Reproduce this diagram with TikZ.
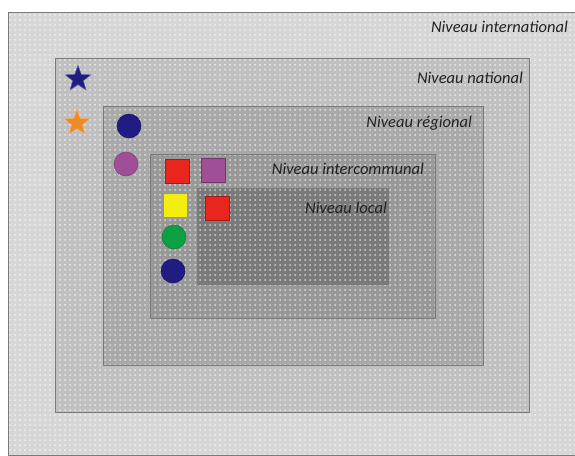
\documentclass[tikz,border=0pt]{standalone}
\usepackage{fontspec}
\setmainfont{Carlito}
\usetikzlibrary{shapes.geometric,patterns.meta}
\definecolor{cInt}{HTML}{D6D6D6}
\definecolor{cNat}{HTML}{C0C0C0}
\definecolor{cReg}{HTML}{A9A9A9}
\definecolor{cInc}{HTML}{989898}
\definecolor{cLoc}{HTML}{7A7A7A}
\definecolor{cEdge}{HTML}{7A7A7A}
\definecolor{cNavy}{HTML}{211C82}
\definecolor{cPurple}{HTML}{A04E96}
\definecolor{cRed}{HTML}{E8261E}
\definecolor{cYellow}{HTML}{F4EE10}
\definecolor{cGreen}{HTML}{0DA043}
\definecolor{cOrange}{HTML}{EF8A28}
\definecolor{cText}{HTML}{222222}
\tikzset{
  level/.style={fill=#1,
    postaction={pattern={Dots[distance=5pt,radius=1pt]}, pattern color=white!65!#1},
    postaction={draw=cEdge, line width=0.6pt}},
  lvllabel/.style={anchor=base east, font=\itshape\fontsize{16.5}{16.5}\selectfont, text=cText, inner sep=0pt},
  sq/.style={rectangle, minimum size=24pt, inner sep=0pt, fill=#1, draw=#1!70!black, line width=0.5pt},
  disc/.style={circle, minimum size=24pt, inner sep=0pt, fill=#1, draw=#1!80!black, line width=0.5pt},
  starmark/.style={star, star points=5, star point ratio=2.4, minimum size=27pt, inner sep=0pt, fill=#1, draw=#1!70!white, line width=0.5pt}
}
\begin{document}
\begin{tikzpicture}[x=1pt,y=-1pt]
\useasboundingbox[fill=white] (0,0) rectangle (575,455);
% levels
\path[level=cInt] (8,12) rectangle (580,455);
\path[level=cNat] (55,58) rectangle (529,412);
\path[level=cReg] (103,106) rectangle (483,365);
\path[level=cInc] (150,154) rectangle (435,318);
\path[level=cLoc] (197,188) rectangle (388,284);
% labels
\node[lvllabel] (lInt) at (568,32) {Niveau international};
\node[lvllabel] (lNat) at (523,83) {Niveau national};
\node[lvllabel] (lReg) at (472,127) {Niveau régional};
\node[lvllabel] (lInc) at (424,174) {Niveau intercommunal};
\node[lvllabel] (lLoc) at (387,213) {Niveau local};
% markers
\node[starmark=cNavy] (s1) at (78,79) {};
\node[starmark=cOrange] (s2) at (77,123) {};
\node[disc=cNavy] (c1) at (129,126) {};
\node[disc=cPurple] (c2) at (126,164) {};
\node[sq=cRed] (q1) at (177,171) {};
\node[sq=cPurple] (q2) at (213,170) {};
\node[sq=cYellow] (q3) at (175,205) {};
\node[sq=cRed] (q4) at (217,208) {};
\node[disc=cGreen] (c3) at (174,237) {};
\node[disc=cNavy] (c4) at (173,271) {};
\end{tikzpicture}
\end{document}
